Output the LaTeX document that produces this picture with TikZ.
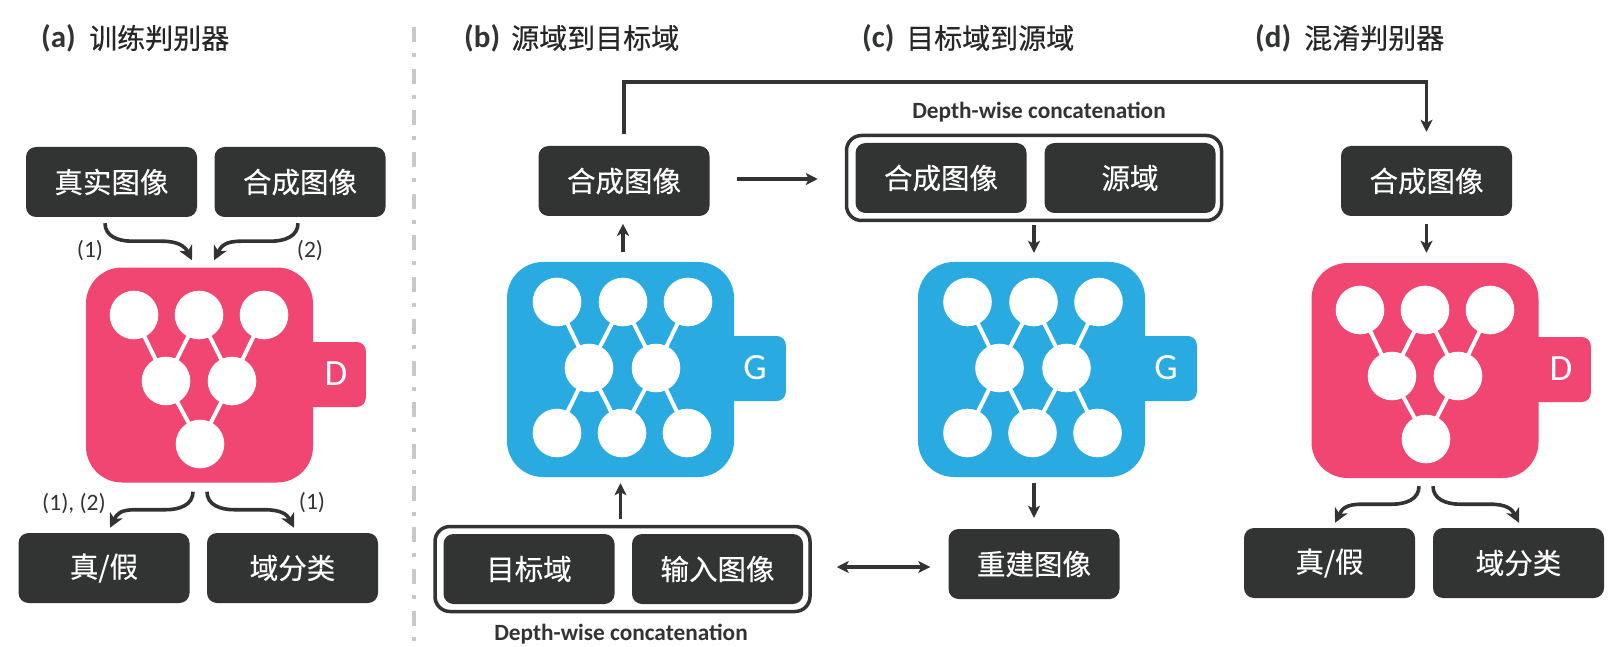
\documentclass[tikz,border=0pt]{standalone}
\usepackage{fontspec}
\setmainfont{Carlito}
\newfontfamily\cjk[FakeBold=0.35]{Noto Sans CJK SC}
\usetikzlibrary{arrows.meta,calc}
\definecolor{darkbox}{HTML}{323333}
\definecolor{pinkD}{HTML}{F14672}
\definecolor{blueG}{HTML}{29ABE2}
\definecolor{sepgray}{HTML}{C8C8C8}
\tikzset{
  dbox/.style={fill=darkbox,text=white,rounded corners=10pt,minimum width=171pt,minimum height=70pt,inner sep=0pt,font=\cjk\fontsize{28.5}{30}\selectfont},
  groupbox/.style={draw=darkbox,fill=white,line width=3.5pt,rounded corners=15pt,minimum width=375pt,minimum height=85pt,inner sep=0pt},
  body/.style={rounded corners=36pt,minimum width=227pt,minimum height=215pt,inner sep=0pt},
  tabbox/.style={rounded corners=9pt,minimum width=80pt,minimum height=65pt,inner sep=0pt},
  tabletter/.style={text=white,inner sep=0pt,font=\fontsize{37}{40}\selectfont},
  neuron/.style={circle,fill=white,minimum size=48.6pt,inner sep=0pt},
  synapse/.style={white,line width=4pt},
  conn/.style={darkbox,line width=3.5pt,-{Stealth[length=12pt,width=12pt,inset=3pt]}},
  dconn/.style={darkbox,line width=3.5pt,{Stealth[length=12pt,width=12pt,inset=3pt]}-{Stealth[length=12pt,width=12pt,inset=3pt]}},
  swoosh/.style={darkbox,line width=3.6pt,-{Stealth[length=14pt,width=14pt,inset=4pt]}},
  titleL/.style={anchor=west,inner sep=0pt,text=darkbox,font=\bfseries\fontsize{31}{34}\selectfont},
  titleC/.style={anchor=west,inner sep=0pt,text=black!85,font=\cjk\fontsize{28}{30}\selectfont},
  note/.style={inner sep=0pt,text=darkbox,font=\fontsize{23.5}{26}\selectfont},
  depth/.style={inner sep=0pt,text=darkbox,font=\bfseries\fontsize{23.3}{26}\selectfont},
}
\newcommand\discnet[3]{%
  \begin{scope}[shift={(#2,#3)}]
    \draw[synapse] (-66,-129) -- (-34,-63) (-1,-129) -- (-34,-63) (-1,-129) -- (32,-63)
      (64,-129) -- (32,-63) (-34,-63) -- (0,0) (32,-63) -- (0,0);
    \node[neuron] (#1t1) at (-66,-129) {};
    \node[neuron] (#1t2) at (-1,-129) {};
    \node[neuron] (#1t3) at (64,-129) {};
    \node[neuron] (#1m1) at (-34,-63) {};
    \node[neuron] (#1m2) at (32,-63) {};
    \node[neuron] (#1b1) at (0,0) {};
  \end{scope}}
\newcommand\gennet[3]{%
  \begin{scope}[shift={(#2,#3)}]
    \draw[synapse] (-65.5,-66) -- (-33.5,0) (0.5,-66) -- (-33.5,0) (0.5,-66) -- (33.5,0) (65.5,-66) -- (33.5,0)
      (-33.5,0) -- (-65.5,65) (-33.5,0) -- (-0.5,65) (33.5,0) -- (-0.5,65) (33.5,0) -- (64.5,65);
    \node[neuron] (#1t1) at (-65.5,-66) {};
    \node[neuron] (#1t2) at (0.5,-66) {};
    \node[neuron] (#1t3) at (65.5,-66) {};
    \node[neuron] (#1m1) at (-33.5,0) {};
    \node[neuron] (#1m2) at (33.5,0) {};
    \node[neuron] (#1b1) at (-65.5,65) {};
    \node[neuron] (#1b2) at (-0.5,65) {};
    \node[neuron] (#1b3) at (64.5,65) {};
  \end{scope}}
% start, end, direction (1 or -1)
\newcommand\swooshpath[3]{%
  \draw[swoosh] (#1) .. controls +(0,13) and +(#3*-14,0) .. ++(#3*27,18)
    .. controls +(#3*14,0) and +(#3*-14,0) .. ++(#3*30,0)
    .. controls +(#3*16,0) and +(#3*-7,-14) .. (#2);}
\begin{document}
\begin{tikzpicture}[x=1pt,y=-1pt]
\useasboundingbox[fill=white] (0,0) rectangle (1620,647);

% separator
\draw[sepgray,line width=4pt,dash pattern=on 15pt off 11pt on 4pt off 11.7pt] (414,27) -- (414,642);

% titles
\node[titleL] (ta) at (41,38) {(a)};
\node[titleC] (tac) at (89,38) {训练判别器};
\node[titleL] (tb) at (464,38) {(b)};
\node[titleC] (tbc) at (511,38) {源域到目标域};
\node[titleL] (tc) at (862,38) {(c)};
\node[titleC] (tcc) at (906,38) {目标域到源域};
\node[titleL] (td) at (1255,38) {(d)};
\node[titleC] (tdc) at (1304,38) {混淆判别器};

% panel a
\node[dbox] (real) at (111.5,182) {真实图像};
\node[dbox] (synA) at (300,182) {合成图像};
\node[tabbox,fill=pinkD,anchor=east] (tabA) at (366,374.5) {};
\node[body,fill=pinkD] (DA) at (199.5,375) {};
\node[tabletter] (lA) at (336,374) {D};
\discnet{na}{200}{444}
\node[dbox] (tfA) at (104,568) {真/假};
\node[dbox] (domA) at (292.5,568) {域分类};
\swooshpath{[xshift=-6.5pt,yshift=-6pt]real.south}{[xshift=-7.5pt,yshift=7pt]DA.north}{1}
\swooshpath{[xshift=-2pt,yshift=-6pt]synA.south}{[xshift=14.5pt,yshift=7pt]DA.north}{-1}
\swooshpath{[xshift=-6.5pt,yshift=-9pt]DA.south}{[xshift=6pt,yshift=5pt]tfA.north}{-1}
\swooshpath{[xshift=7.5pt,yshift=-9pt]DA.south}{[xshift=1.5pt,yshift=5pt]domA.north}{1}
\node[note] (n1) at (90,251) {(1)};
\node[note] (n2) at (310,251) {(2)};
\node[note] (n3) at (74,504) {(1), (2)};
\node[note] (n4) at (312,503) {(1)};

% panel b
\node[dbox] (synB) at (624,181) {合成图像};
\node[tabbox,fill=blueG,anchor=east] (tabB) at (786,368.5) {};
\node[body,fill=blueG] (GB) at (620.5,369.5) {};
\node[tabletter] (lB) at (755,368) {G};
\gennet{nb}{622.5}{368}
\node[groupbox] (grpB) at (622.5,569) {};
\node[dbox] (tgt) at (529,569) {目标域};
\node[dbox] (inp) at (717.5,569) {输入图像};
\node[depth] (depB) at (621,634) {Depth-wise concatenation};

% panel c
\node[groupbox] (grpC) at (1034,178) {};
\node[dbox] (synC) at (941,178) {合成图像};
\node[dbox] (src) at (1130,178) {源域};
\node[depth] (depC) at (1039,112) {Depth-wise concatenation};
\node[tabbox,fill=blueG,anchor=east] (tabC) at (1197,368.5) {};
\node[body,fill=blueG] (GC) at (1031.5,369.5) {};
\node[tabletter] (lC) at (1166,368) {G};
\gennet{nc}{1033}{368}
\node[dbox] (rec) at (1034,564) {重建图像};

% panel d
\node[dbox] (synD) at (1426.5,181) {合成图像};
\node[tabbox,fill=pinkD,anchor=east] (tabD) at (1591,369.5) {};
\node[body,fill=pinkD] (DD) at (1425,370.5) {};
\node[tabletter] (lD) at (1561,369) {D};
\discnet{nd}{1426}{439}
\node[dbox] (tfD) at (1329.5,563) {真/假};
\node[dbox] (domD) at (1518.5,563) {域分类};
\swooshpath{[xshift=-6pt,yshift=-8pt]DD.south}{[xshift=5.5pt,yshift=5pt]tfD.north}{-1}
\swooshpath{[xshift=8pt,yshift=-8pt]DD.south}{[xshift=0.5pt,yshift=5pt]domD.north}{1}

% straight connectors
\draw[conn] ([yshift=12pt]synB.north) |- ([yshift=64pt]synD.north) -- ([yshift=14pt]synD.north);
\draw[conn,shorten <=27pt,shorten >=27pt] ([yshift=2pt]synB.east) -- ([yshift=2pt]synB.east -| grpC.west);
\draw[conn,shorten <=10pt,shorten >=8pt] (synB.south |- GB.north) ++(-1,0) -- ++(0,-46);
\draw[conn,shorten <=6pt,shorten >=6pt] (GB.south |- grpB.north) -- (GB.south);
\draw[conn,shorten <=3pt,shorten >=9pt] (grpC.south) -- (GC.north -| grpC.south);
\draw[conn,shorten <=6pt,shorten >=11pt] (GC.south -| rec.north) -- (rec.north);
\draw[dconn,shorten <=25pt,shorten >=18pt] (grpB.east |- 0,567) -- (rec.west |- 0,567);
\draw[conn,shorten <=8pt,shorten >=10pt] (synD.south) -- (synD.south |- DD.north);
\end{tikzpicture}
\end{document}
